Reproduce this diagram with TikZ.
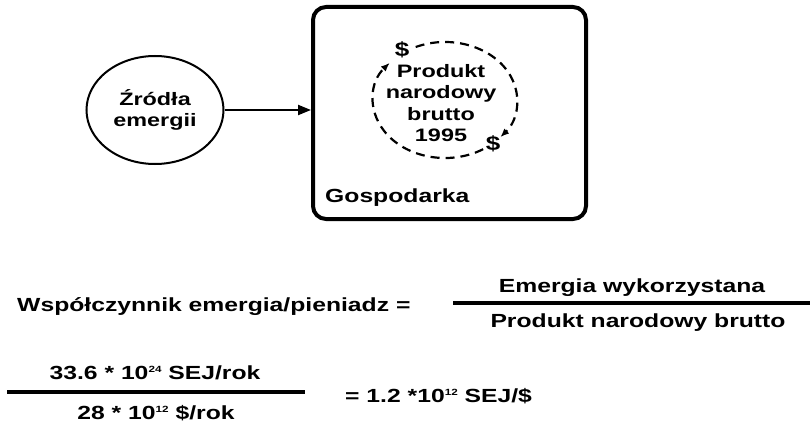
\documentclass[tikz,border=0pt]{standalone}
\usepackage{fontspec}
\setmainfont{Liberation Sans}[FakeStretch=1.3]
\usetikzlibrary{shapes.geometric,arrows.meta,calc}
\newcommand{\supx}[1]{\raisebox{6.5pt}{\fontsize{9}{9}\selectfont #1}}
\begin{document}
\begin{tikzpicture}[x=1pt,y=1pt,
  txt/.style={font=\bfseries\fontsize{19}{21.5}\selectfont, inner sep=0pt, align=center},
  txtsm/.style={font=\bfseries\fontsize{18}{21.5}\selectfont, inner sep=0pt, align=center},
  dollar/.style={font=\bfseries\fontsize{20}{22}\selectfont, inner sep=0pt},
  fracline/.style={line width=3.6pt},
  dashline/.style={line width=2.2pt, dash pattern=on 9pt off 6pt, -{Latex[length=9pt,width=7pt]}}
]
\useasboundingbox (0,0) rectangle (810,-425);
% source ellipse
\node[ellipse, draw, line width=2pt, minimum width=137pt, minimum height=108pt, txtsm] (src) at (155,-110) {Źródła\\emergii};
% economy box
\node[draw, rounded corners=13pt, line width=4pt, minimum width=273pt, minimum height=212pt, inner sep=0pt] (econ) at (449.5,-113) {};
\draw[line width=2.2pt, -{Triangle[length=13pt,width=10pt]}] (src.east) -- (src.east -| econ.west);
% GNP loop
\coordinate (gc) at (445,-100);
\node[txtsm] (gnp) at (441,-103) {Produkt\\narodowy\\brutto\\1995};
\node[dollar] (d1) at (402,-50) {\$};
\node[dollar] (d2) at (493,-144) {\$};
\draw[dashline] ($(gc)+(114:72pt and 58pt)$) arc[start angle=114, end angle=-40, x radius=72pt, y radius=58pt];
\draw[dashline] ($(gc)+(-58:72pt and 58pt)$) arc[start angle=-58, end angle=-220, x radius=72pt, y radius=58pt];
\node[txt, anchor=base west] (gosp) at (325,-202) {Gospodarka};
% first equation
\node[txt, anchor=base west] (ratio) at (17,-311) {Współczynnik emergia/pieniadz =};
\coordinate (f1a) at (453,-303);
\coordinate (f1b) at (810,-303);
\draw[fracline] (f1a) -- (f1b);
\node[txt, anchor=base] (num1) at (632,-292) {Emergia wykorzystana};
\node[txt, anchor=base] (den1) at (638,-327) {Produkt narodowy brutto};
% second equation
\coordinate (f2a) at (7,-392);
\coordinate (f2b) at (305,-392);
\draw[fracline] (f2a) -- (f2b);
\node[txt, anchor=base] (num2) at (155,-379) {33.6 * 10\supx{24} SEJ/rok};
\node[txt, anchor=base] (den2) at (156,-419) {28 * 10\supx{12} \$/rok};
\node[txt, anchor=base west] (res) at (345,-402) {= 1.2 *10\supx{12} SEJ/\$};
\end{tikzpicture}
\end{document}
